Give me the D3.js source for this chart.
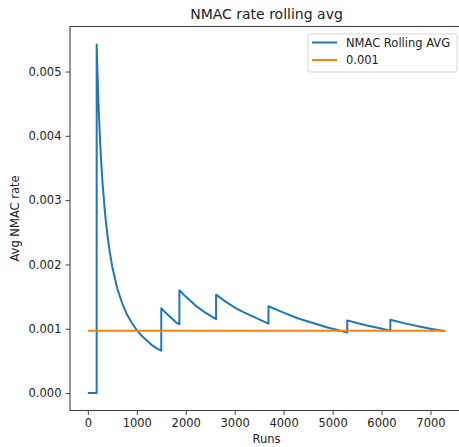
<!DOCTYPE html>
<html>
<head>
<meta charset="utf-8">
<script src="https://cdn.jsdelivr.net/npm/d3@7"></script>
<style>
  body { margin: 0; background: #fff; }
  text { font-family: "DejaVu Sans", sans-serif; fill: #222; }
</style>
</head>
<body>
<div id="chart"></div>
<script>
// Rolling average readings, [runs, avg NMAC rate]
const rollingRuns = [0, 180, 180, 190, 200, 210, 225, 250, 275, 300, 350, 400, 450, 500, 600, 700, 800, 900, 1000, 1100, 1200, 1300, 1400, 1500,
  1500, 1600, 1700, 1800, 1870,
  1870, 2000, 2200, 2400, 2620,
  2620, 2800, 3000, 3200, 3400, 3600, 3690,
  3690, 4000, 4300, 4600, 4900, 5100, 5300,
  5300, 5500, 5700, 5900, 6180,
  6180, 6500, 6800, 7000, 7300];
const rollingValues = [0, 0, 0.00542, 0.00514, 0.00490, 0.00465, 0.00435, 0.00392, 0.00356, 0.00327, 0.00280, 0.00245, 0.00218, 0.00196, 0.00163, 0.00140, 0.00122, 0.00109, 0.00098, 0.00089, 0.00082, 0.00075, 0.00070, 0.00066,
  0.00132, 0.00124, 0.00117, 0.00110, 0.00107,
  0.00160, 0.00150, 0.00136, 0.00125, 0.00115,
  0.00153, 0.00143, 0.00133, 0.00125, 0.00118, 0.00111, 0.00108,
  0.00135, 0.00125, 0.00116, 0.00109, 0.00102, 0.00098, 0.00094,
  0.00113, 0.00109, 0.00105, 0.00102, 0.00097,
  0.00114, 0.00108, 0.00103, 0.00100, 0.00096];

const thresholdRuns = [0, 7300];
const thresholdValues = [0.00097, 0.00097];

const xTicks = [0, 1000, 2000, 3000, 4000, 5000, 6000, 7000];
const yTicks = [0, 0.001, 0.002, 0.003, 0.004, 0.005];
const legendLabels = ["NMAC Rolling AVG", "0.001"];

const W = 459, H = 447;
const margin = { top: 26.5, right: -4, bottom: 36.5, left: 70 };
const width = W - margin.left - margin.right;
const height = H - margin.top - margin.bottom;

const svg = d3.select("#chart").append("svg")
  .attr("width", W)
  .attr("height", H);

const g = svg.append("g")
  .attr("transform", `translate(${margin.left},${margin.top})`);

// scales with matplotlib-like 5% padding
const x = d3.scaleLinear().domain([-365, 7665]).range([0, width]);
const y = d3.scaleLinear().domain([-0.000271, 0.0057]).range([height, 0]);

const rolling = rollingRuns.map((r, i) => ({ run: r, v: rollingValues[i] }));
const threshold = thresholdRuns.map((r, i) => ({ run: r, v: thresholdValues[i] }));

const line = d3.line().x(d => x(d.run)).y(d => y(d.v));

g.append("path")
  .datum(rolling)
  .attr("fill", "none")
  .attr("stroke", "#1f77b4")
  .attr("stroke-width", 2)
  .attr("stroke-linejoin", "round")
  .attr("d", line);

g.append("path")
  .datum(threshold)
  .attr("fill", "none")
  .attr("stroke", "#ff7f0e")
  .attr("stroke-width", 2)
  .attr("d", line);

// axes
const xAxis = g.append("g")
  .attr("transform", `translate(0,${height})`)
  .call(d3.axisBottom(x).tickValues(xTicks).tickSize(4.5).tickPadding(4).tickFormat(d3.format("d")));

const yAxis = g.append("g")
  .call(d3.axisLeft(y).tickValues(yTicks).tickSize(4.5).tickPadding(4).tickFormat(d3.format(".3f")));

[xAxis, yAxis].forEach(a => {
  a.select(".domain").remove();
  a.selectAll("line").attr("stroke", "#444");
  a.selectAll("text").style("font-size", "11.5px").style("fill", "#222")
    .style("font-family", "DejaVu Sans, sans-serif");
});

// frame
g.append("rect")
  .attr("x", 0).attr("y", 0)
  .attr("width", width).attr("height", height)
  .attr("fill", "none")
  .attr("stroke", "#444")
  .attr("stroke-width", 1.1);

// title and labels
svg.append("text")
  .attr("x", margin.left + width / 2)
  .attr("y", 19)
  .attr("text-anchor", "middle")
  .style("font-size", "14px")
  .text("NMAC rate rolling avg");

svg.append("text")
  .attr("x", margin.left + width / 2)
  .attr("y", 443)
  .attr("text-anchor", "middle")
  .style("font-size", "11.5px")
  .text("Runs");

svg.append("text")
  .attr("transform", `translate(19,${margin.top + height / 2}) rotate(-90)`)
  .attr("text-anchor", "middle")
  .style("font-size", "11.5px")
  .text("Avg NMAC rate");

// legend
const legend = svg.append("g").attr("transform", "translate(308,34)");
legend.append("rect")
  .attr("width", 149).attr("height", 38)
  .attr("rx", 2.5)
  .attr("fill", "#fff")
  .attr("stroke", "#d6d6d6");

const legendColors = ["#1f77b4", "#ff7f0e"];
legendLabels.forEach((lab, i) => {
  const ly = 8.5 + i * 17.5;
  legend.append("line")
    .attr("x1", 4).attr("x2", 29)
    .attr("y1", ly).attr("y2", ly)
    .attr("stroke", legendColors[i])
    .attr("stroke-width", 2);
  legend.append("text")
    .attr("x", 38).attr("y", ly + 4)
    .style("font-size", "11.5px")
    .text(lab);
});
</script>
</body>
</html>
